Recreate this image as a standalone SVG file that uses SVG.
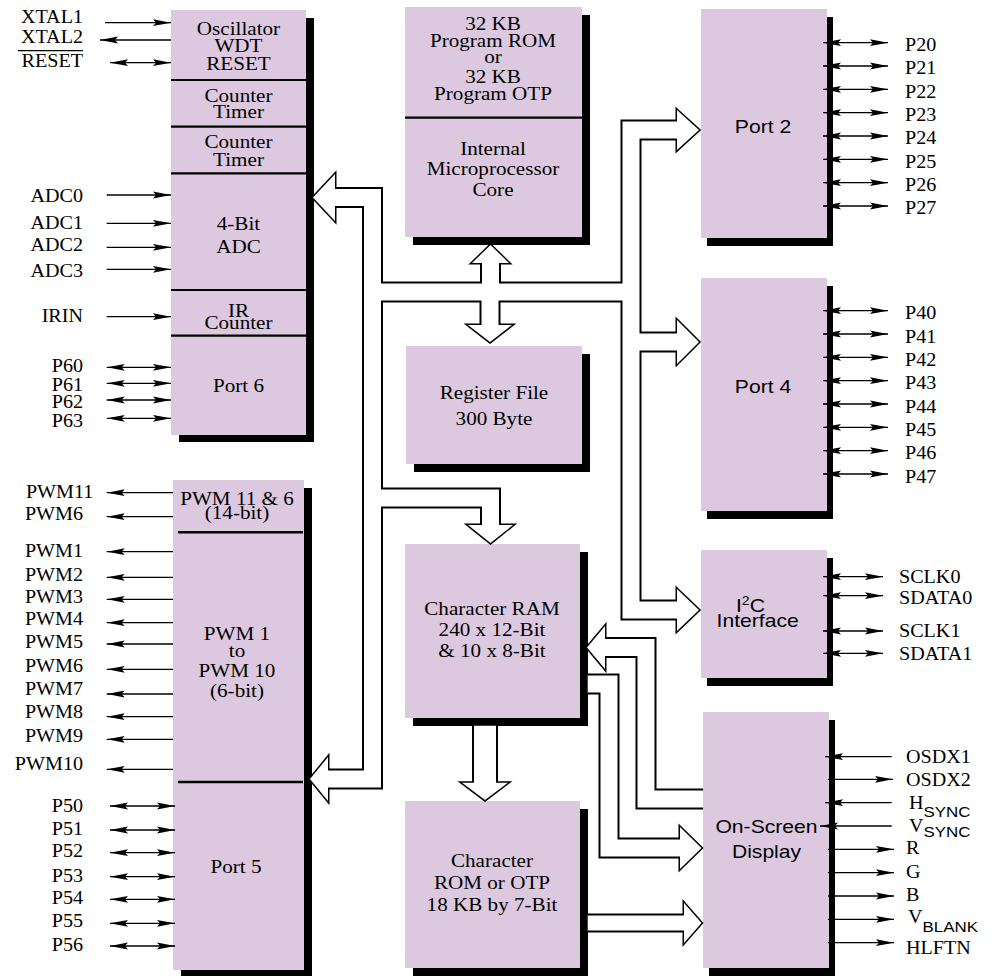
<svg xmlns="http://www.w3.org/2000/svg" width="996" height="976" viewBox="0 0 996 976">
<style>
.bx{fill:#dcc9e0}
.sh{fill:#000}
.dv{stroke:#000;stroke-width:2.2}
.s{font-family:"Liberation Serif","Times New Roman",serif;font-size:18.7px;fill:#000;text-anchor:middle}
.a{font-family:"Liberation Sans",Arial,sans-serif;font-size:18.7px;fill:#000;text-anchor:middle}
.p{font-family:"Liberation Serif","Times New Roman",serif;font-size:17.8px;fill:#000}
.e{text-anchor:end}
.sub{font-family:"Liberation Sans",Arial,sans-serif;font-size:15px}
.w{stroke:#000;stroke-width:1.3;fill:none}
.o{marker-end:url(#ah)}
.bi{marker-start:url(#ah);marker-end:url(#ah)}
.pb{fill:none;stroke:#000;stroke-width:21;stroke-linejoin:miter}
.pw{fill:none;stroke:#fff;stroke-width:17;stroke-linejoin:miter}
.pb17{fill:none;stroke:#000;stroke-width:19;stroke-linejoin:miter}
.pw17{fill:none;stroke:#fff;stroke-width:15;stroke-linejoin:miter}
.pb24{fill:none;stroke:#000;stroke-width:26;stroke-linejoin:miter}
.pw24{fill:none;stroke:#fff;stroke-width:22;stroke-linejoin:miter}
.hb{fill:#000;stroke:#000;stroke-width:3;stroke-linejoin:miter;stroke-miterlimit:10}
.hw{fill:#fff;stroke:none}
</style>
<defs>
<marker id="ah" viewBox="0 0 18 8" refX="18" refY="4" markerWidth="18" markerHeight="8" markerUnits="userSpaceOnUse" orient="auto-start-reverse">
<path d="M0,0.6 L18,4 L0,7.4 L3,4 z" fill="#000"/>
</marker>
<path id="busL" d="M334 197.5 H372.5 V779 H327"/>
<path id="busH" d="M372.5 292 H631"/>
<path id="busR" d="M678 130 H631 V610 H678"/>
<path id="busP4" d="M631 342 H678"/>
<path id="busCore" d="M490.5 292 V262"/>
<path id="busReg" d="M490 292 V326"/>
<path id="busRam" d="M372.5 498 H490.5 V526"/>
<path id="busOsdIn" d="M604 647.5 H646 V799 H703"/>
<path id="busOsdOut" d="M587.7 684 H609 V848 H681"/>
<path id="busRom" d="M587.7 923 H685"/>
<path id="busDown" d="M485 725.7 V783.7"/>
<g id="heads">
<polygon points="335,174 313,197.5 335,221"/>
<polygon points="328,757 310,779 328,801"/>
<polygon points="677,110 699,130 677,150"/>
<polygon points="677,320 699,342 677,364"/>
<polygon points="677,589 699,610 677,631"/>
<polygon points="472,263 490.5,245 509,263"/>
<polygon points="468,325 490,342 512,325"/>
<polygon points="468,525 490.5,543 513,525"/>
<polygon points="605,626 587,647.5 605,669"/>
<polygon points="680,827 701.5,848 680,869"/>
<polygon points="684,903 701.5,923 684,943"/>
<polygon points="462,782.7 485,800 508,782.7"/>
</g>
</defs>

<g id="left-block">
<rect class="sh" x="179" y="18" width="135" height="424"/>
<rect class="bx" x="171" y="10" width="135" height="425"/>
<line class="dv" x1="171" y1="80" x2="306" y2="80"/>
<line class="dv" x1="171" y1="126.7" x2="306" y2="126.7"/>
<line class="dv" x1="171" y1="173.3" x2="306" y2="173.3"/>
<line class="dv" x1="171" y1="290" x2="306" y2="290"/>
<line class="dv" x1="171" y1="335.7" x2="306" y2="335.7"/>
<g transform="scale(1.13 1)">
<text class="s" x="211.06" y="35">Oscillator</text>
<text class="s" x="211.06" y="52">WDT</text>
<text class="s" x="211.06" y="70">RESET</text>
<text class="s" x="211.06" y="101.7">Counter</text>
<text class="s" x="211.06" y="118.3">Timer</text>
<text class="s" x="211.06" y="148.3">Counter</text>
<text class="s" x="211.06" y="165.7">Timer</text>
<text class="s" x="211.06" y="230">4-Bit</text>
<text class="s" x="211.06" y="253.3">ADC</text>
<text class="s" x="211.06" y="316.7">IR</text>
<text class="s" x="211.06" y="329.5">Counter</text>
<text class="s" x="211.06" y="391.7">Port 6</text>
</g>
</g>

<g id="pwm-block">
<rect class="sh" x="181" y="488" width="131" height="490"/>
<rect class="bx" x="173" y="480" width="131" height="490"/>
<line x1="178" y1="532.3" x2="303" y2="532.3" stroke="#000" stroke-width="2.6"/>
<line x1="178" y1="782" x2="303" y2="782" stroke="#000" stroke-width="2.6"/>
<g transform="scale(1.13 1)">
<text class="s" x="209.73" y="505">PWM 11 &amp; 6</text>
<text class="s" x="209.73" y="519.5">(14-bit)</text>
<text class="s" x="209.73" y="640">PWM 1</text>
<text class="s" x="209.73" y="656.7">to</text>
<text class="s" x="209.73" y="677.3">PWM 10</text>
<text class="s" x="209.73" y="697.5">(6-bit)</text>
<text class="s" x="208.85" y="873.3">Port 5</text>
</g>
</g>

<g id="core-block">
<rect class="sh" x="413" y="15" width="177" height="230"/>
<rect class="bx" x="405" y="7" width="177" height="230"/>
<line class="dv" x1="405" y1="117.7" x2="582" y2="117.7"/>
<g transform="scale(1.13 1)">
<text class="s" x="436.28" y="30">32 KB</text>
<text class="s" x="436.28" y="47">Program ROM</text>
<text class="s" x="436.28" y="63.5">or</text>
<text class="s" x="436.28" y="83.5">32 KB</text>
<text class="s" x="436.28" y="100.5">Program OTP</text>
<text class="s" x="436.28" y="155">Internal</text>
<text class="s" x="436.28" y="175">Microprocessor</text>
<text class="s" x="436.28" y="196">Core</text>
</g>
</g>

<g id="register-file">
<rect class="sh" x="414" y="354" width="176" height="118"/>
<rect class="bx" x="406" y="346" width="176" height="118"/>
<g transform="scale(1.13 1)">
<text class="s" x="437.17" y="399">Register File</text>
<text class="s" x="437.17" y="425">300 Byte</text>
</g>
</g>

<g id="character-ram">
<rect class="sh" x="413" y="552" width="175" height="174"/>
<rect class="bx" x="405" y="544" width="175" height="174"/>
<g transform="scale(1.13 1)">
<text class="s" x="435.4" y="615">Character RAM</text>
<text class="s" x="435.4" y="636">240 x 12-Bit</text>
<text class="s" x="435.4" y="657">&amp; 10 x 8-Bit</text>
</g>
</g>

<g id="character-rom">
<rect class="sh" x="413" y="809" width="175" height="167"/>
<rect class="bx" x="405" y="801" width="175" height="167"/>
<g transform="scale(1.13 1)">
<text class="s" x="435.4" y="867">Character</text>
<text class="s" x="435.4" y="889.5">ROM or OTP</text>
<text class="s" x="435.4" y="911.5">18 KB by 7-Bit</text>
</g>
</g>

<g id="port2">
<rect class="sh" x="707" y="17" width="126" height="229"/>
<rect class="bx" x="701" y="9" width="126" height="229"/>
<g transform="scale(1.13 1)"><text class="a" x="675.22" y="133.3">Port 2</text></g>
</g>

<g id="port4">
<rect class="sh" x="707" y="286" width="126" height="233"/>
<rect class="bx" x="701" y="278" width="126" height="233"/>
<g transform="scale(1.13 1)"><text class="a" x="675.22" y="393.3">Port 4</text></g>
</g>

<g id="i2c">
<rect class="sh" x="707" y="558" width="126" height="128"/>
<rect class="bx" x="701" y="550" width="126" height="128"/>
<g transform="scale(1.13 1)">
<text class="a" x="651.33" y="612" style="text-anchor:start">I<tspan font-size="12.5" dy="-6.5">2</tspan><tspan dy="6.5">C</tspan></text>
<text class="a" x="670.53" y="627.5">Interface</text>
</g>
</g>

<g id="osd">
<rect class="sh" x="709" y="720" width="126" height="256"/>
<rect class="bx" x="703" y="712" width="126" height="256"/>
<g transform="scale(1.13 1)">
<text class="a" x="678.32" y="833.3">On-Screen</text>
<text class="a" x="678.32" y="858.3">Display</text>
</g>
</g>

<g id="connectors">
<g id="buses">
<use href="#busL" class="pb"/><use href="#busH" class="pb"/><use href="#busR" class="pb"/><use href="#busP4" class="pb"/>
<use href="#busCore" class="pb"/><use href="#busReg" class="pb"/><use href="#busRam" class="pb"/>
<use href="#busOsdIn" class="pb"/><use href="#busOsdOut" class="pb"/>
<use href="#busRom" class="pb17"/><use href="#busDown" class="pb24"/>
<use href="#heads" class="hb"/>
<use href="#busL" class="pw"/><use href="#busH" class="pw"/><use href="#busR" class="pw"/><use href="#busP4" class="pw"/>
<use href="#busCore" class="pw"/><use href="#busReg" class="pw"/><use href="#busRam" class="pw"/>
<use href="#busOsdIn" class="pw"/><use href="#busOsdOut" class="pw"/>
<use href="#busRom" class="pw17"/><use href="#busDown" class="pw24"/>
<use href="#heads" class="hw"/>
</g>
<g id="pin-arrows" class="w">
<path class="o" d="M105 22.7H171"/>
<path class="o" d="M171 40H100"/>
<path class="bi" d="M110 62.7H171"/>
<path class="o" d="M106.7 195H171"/>
<path class="o" d="M106.7 223.3H171"/>
<path class="o" d="M106.7 247.3H171"/>
<path class="o" d="M106.7 269.3H171"/>
<path class="o" d="M106.7 316.7H171"/>
<path class="bi" d="M106.7 367.3H171"/>
<path class="bi" d="M106.7 383.3H171"/>
<path class="bi" d="M106.7 400H171"/>
<path class="bi" d="M106.7 418.3H171"/>
<path class="o" d="M173 492.7H106.7"/>
<path class="o" d="M173 516.7H106.7"/>
<path class="o" d="M173 551.7H106.7"/>
<path class="o" d="M173 577.3H106.7"/>
<path class="o" d="M173 599.3H106.7"/>
<path class="o" d="M173 622.7H106.7"/>
<path class="o" d="M173 644H106.7"/>
<path class="o" d="M173 669.3H106.7"/>
<path class="o" d="M173 694H106.7"/>
<path class="o" d="M173 716.7H106.7"/>
<path class="o" d="M173 739.3H106.7"/>
<path class="o" d="M173 769.3H106.7"/>
<path class="bi" d="M110 806H175"/>
<path class="bi" d="M110 830H175"/>
<path class="bi" d="M110 852.7H175"/>
<path class="bi" d="M110 876.7H175"/>
<path class="bi" d="M110 899.3H175"/>
<path class="bi" d="M110 923.3H175"/>
<path class="bi" d="M110 946H175"/>
<path class="bi" d="M823 42.7H888"/>
<path class="bi" d="M823 66H888"/>
<path class="bi" d="M823 89.3H888"/>
<path class="bi" d="M823 112.7H888"/>
<path class="bi" d="M823 136H888"/>
<path class="bi" d="M823 159.3H888"/>
<path class="bi" d="M823 182.7H888"/>
<path class="bi" d="M823 206H888"/>
<path class="bi" d="M823 310.7H888"/>
<path class="bi" d="M823 334H888"/>
<path class="bi" d="M823 357.3H888"/>
<path class="bi" d="M823 380.7H888"/>
<path class="bi" d="M823 404H888"/>
<path class="bi" d="M823 427.3H888"/>
<path class="bi" d="M823 450.7H888"/>
<path class="bi" d="M823 474H888"/>
<path class="bi" d="M823 576.7H883"/>
<path class="bi" d="M823 595.7H883"/>
<path class="bi" d="M823 631H883"/>
<path class="bi" d="M823 653.3H883"/>
<path class="o" d="M891.7 756.7H825"/>
<path class="o" d="M828 779.3H893"/>
<path class="o" d="M891.7 802.7H825"/>
<path class="o" d="M891.7 826H820"/>
<path class="o" d="M828 849.3H894"/>
<path class="o" d="M828 872.7H894"/>
<path class="o" d="M828 896H894"/>
<path class="o" d="M828 919.3H894"/>
<path class="o" d="M828 942.7H894"/>
</g>
</g>

<g id="pin-labels">
<line x1="18" y1="50.7" x2="83" y2="50.7" stroke="#000" stroke-width="1.3"/>
<g transform="scale(1.13 1)">
<text class="p e" x="73.45" y="23.5">XTAL1</text>
<text class="p e" x="73.45" y="42.7">XTAL2</text>
<text class="p e" x="73.45" y="66.7">RESET</text>
<text class="p e" x="73.45" y="202">ADC0</text>
<text class="p e" x="73.45" y="229">ADC1</text>
<text class="p e" x="73.45" y="251">ADC2</text>
<text class="p e" x="73.45" y="277">ADC3</text>
<text class="p e" x="73.45" y="321.7">IRIN</text>
<text class="p e" x="73.45" y="371.7">P60</text>
<text class="p e" x="73.45" y="391">P61</text>
<text class="p e" x="73.45" y="408.3">P62</text>
<text class="p e" x="73.45" y="426.7">P63</text>
<text class="p e" x="82.57" y="498.3">PWM11</text>
<text class="p e" x="73.45" y="520">PWM6</text>
<text class="p e" x="73.45" y="557.3">PWM1</text>
<text class="p e" x="73.45" y="580.7">PWM2</text>
<text class="p e" x="73.45" y="603.3">PWM3</text>
<text class="p e" x="73.45" y="625">PWM4</text>
<text class="p e" x="73.45" y="648.3">PWM5</text>
<text class="p e" x="73.45" y="671.7">PWM6</text>
<text class="p e" x="73.45" y="695">PWM7</text>
<text class="p e" x="73.45" y="718.3">PWM8</text>
<text class="p e" x="73.45" y="741.7">PWM9</text>
<text class="p e" x="73.45" y="770">PWM10</text>
<text class="p e" x="73.45" y="811.7">P50</text>
<text class="p e" x="73.45" y="835">P51</text>
<text class="p e" x="73.45" y="857.3">P52</text>
<text class="p e" x="73.45" y="881.7">P53</text>
<text class="p e" x="73.45" y="904">P54</text>
<text class="p e" x="73.45" y="927.3">P55</text>
<text class="p e" x="73.45" y="950.7">P56</text>
<text class="p" x="800.88" y="51">P20</text>
<text class="p" x="800.88" y="74.3">P21</text>
<text class="p" x="800.88" y="97.6">P22</text>
<text class="p" x="800.88" y="121">P23</text>
<text class="p" x="800.88" y="144.3">P24</text>
<text class="p" x="800.88" y="167.6">P25</text>
<text class="p" x="800.88" y="191">P26</text>
<text class="p" x="800.88" y="214.3">P27</text>
<text class="p" x="800.88" y="319.5">P40</text>
<text class="p" x="800.88" y="342.8">P41</text>
<text class="p" x="800.88" y="366.1">P42</text>
<text class="p" x="800.88" y="389.5">P43</text>
<text class="p" x="800.88" y="412.8">P44</text>
<text class="p" x="800.88" y="436.1">P45</text>
<text class="p" x="800.88" y="459.5">P46</text>
<text class="p" x="800.88" y="482.8">P47</text>
<text class="p" x="795.58" y="583.3">SCLK0</text>
<text class="p" x="795.58" y="604">SDATA0</text>
<text class="p" x="795.58" y="637">SCLK1</text>
<text class="p" x="795.58" y="660.5">SDATA1</text>
<text class="p" x="801.77" y="763.3">OSDX1</text>
<text class="p" x="801.77" y="786">OSDX2</text>
<text class="p" x="804.42" y="809.3">H<tspan class="sub" dy="7.4">SYNC</tspan></text>
<text class="p" x="804.42" y="831.7">V<tspan class="sub" dy="5">SYNC</tspan></text>
<text class="p" x="801.77" y="854">R</text>
<text class="p" x="801.77" y="878.3">G</text>
<text class="p" x="801.77" y="901.5">B</text>
<text class="p" x="803.54" y="922.7">V<tspan class="sub" dy="9">BLANK</tspan></text>
<text class="p" x="801.77" y="954">HLFTN</text>
</g>
</g>
</svg>
